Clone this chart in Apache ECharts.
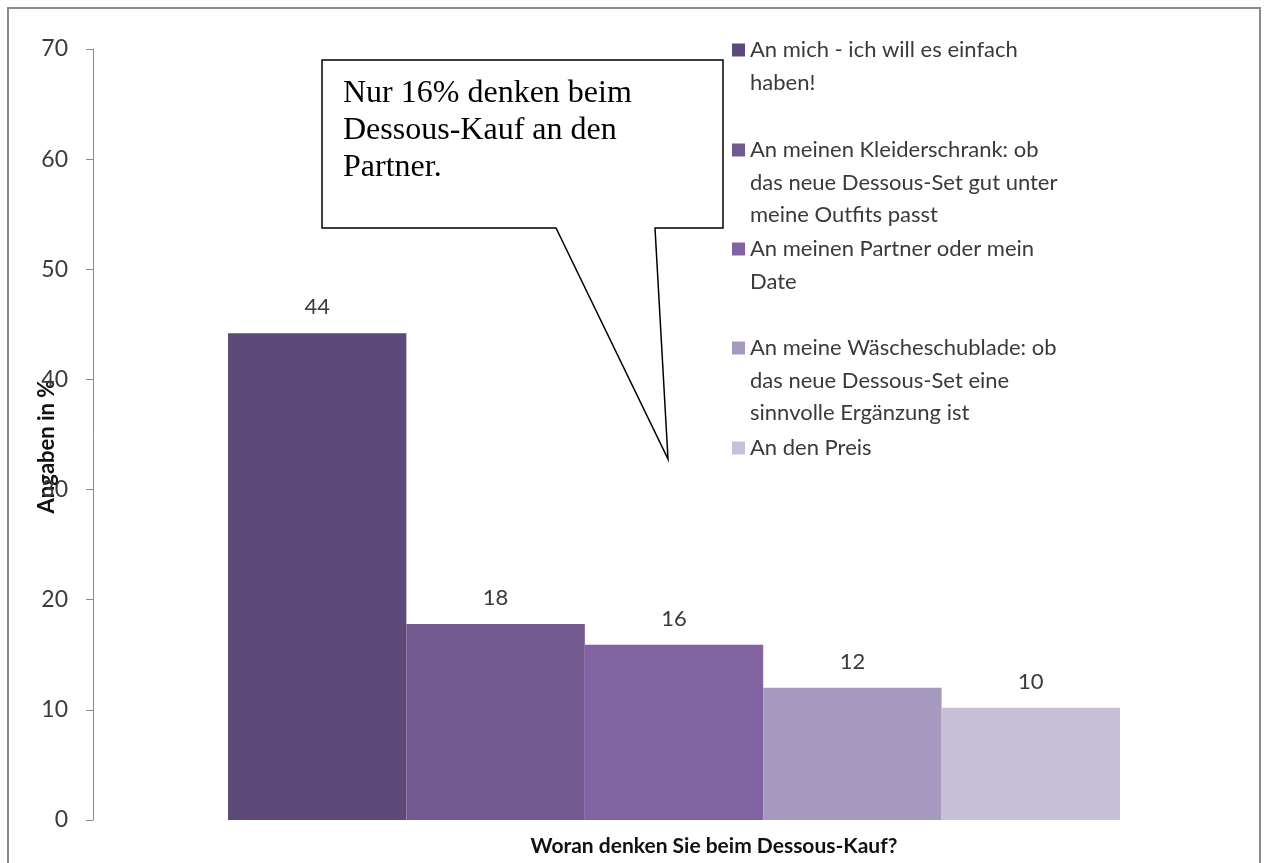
<!DOCTYPE html>
<html>
<head>
<meta charset="utf-8">
<script src="https://cdn.jsdelivr.net/npm/echarts@6/dist/echarts.min.js"></script>
<style>
  html, body { margin: 0; padding: 0; background: #ffffff; }
  #chart { width: 1264px; height: 863px; }
</style>
</head>
<body>
<div id="chart"></div>
<script>
// ---- data ----
const categories = [''];
const seriesNames = [
  'An mich - ich will es einfach\nhaben!',
  'An meinen Kleiderschrank: ob\ndas neue Dessous-Set gut unter\nmeine Outfits passt',
  'An meinen Partner oder mein\nDate',
  'An meine Wäscheschublade: ob\ndas neue Dessous-Set eine\nsinnvolle Ergänzung ist',
  'An den Preis'
];
const values = [44.2, 17.8, 15.9, 12.0, 10.2];
const colors = ['#5e4a78', '#72598f', '#8063a0', '#a699bf', '#c8c0d8'];
const yMin = 0, yMax = 70, yInterval = 10;
const xTitle = 'Woran denken Sie beim Dessous-Kauf?';
const yTitle = 'Angaben in %';
const calloutText = 'Nur 16% denken beim\nDessous-Kauf an den\nPartner.';

// ---- layout / styles ----
const FONT = 'Lato';
const legendLineH = 32.5;
const legendFirstLineCenters = [50, 150, 249, 348, 448];

const chart = echarts.init(document.getElementById('chart'), null, { renderer: 'canvas' });

const legends = seriesNames.map((name, i) => {
  const n = name.split('\n').length;
  return {
    data: [name],
    orient: 'vertical',
    left: 732,
    top: legendFirstLineCenters[i] - legendLineH * (2 * n - 1) / 2,
    padding: 0,
    itemWidth: 13,
    itemHeight: 13,
    icon: 'rect',
    selectedMode: false,
    // blank lines above keep the square level with the first text line
    formatter: nm => '\n'.repeat(nm.split('\n').length - 1) + nm,
    textStyle: {
      fontFamily: FONT,
      fontSize: 22,
      color: '#3a3a3a',
      lineHeight: legendLineH
    }
  };
});

const series = seriesNames.map((name, i) => ({
  name: name,
  type: 'bar',
  data: [values[i]],
  barWidth: 178.4,
  barGap: '0%',
  itemStyle: { color: colors[i] },
  label: {
    show: true,
    position: 'top',
    distance: 15,
    fontFamily: FONT,
    fontSize: 22,
    color: '#3a3a3a',
    formatter: p => String(Math.round(p.value))
  }
}));

const option = {
  backgroundColor: '#ffffff',
  animation: false,
  color: colors,
  legend: legends,
  grid: { left: 93, right: 9, top: 49, bottom: 43, containLabel: false, outerBoundsMode: 'none' },
  xAxis: {
    type: 'category',
    data: categories,
    axisLine: { show: false },
    axisTick: { show: false },
    axisLabel: { show: false },
    name: xTitle,
    nameLocation: 'middle',
    nameGap: 16,
    nameMoveOverlap: false,
    nameTextStyle: {
      fontFamily: FONT, fontSize: 21, fontWeight: 'bold', color: '#111',
      padding: [0, 0, 0, 80]
    }
  },
  yAxis: {
    type: 'value',
    min: yMin, max: yMax, interval: yInterval,
    splitLine: { show: false },
    axisLine: { show: true, lineStyle: { color: '#8a8a8a', width: 1 } },
    axisTick: { show: true, length: 7, lineStyle: { color: '#8a8a8a' } },
    axisLabel: { fontFamily: FONT, fontSize: 23, color: '#3a3a3a', margin: 25 },
    name: yTitle,
    nameLocation: 'middle',
    nameGap: 35,
    nameRotate: 90,
    nameMoveOverlap: false,
    nameTextStyle: {
      fontFamily: FONT, fontSize: 22, fontWeight: 'bold', color: '#111',
      padding: [0, 24, 0, 0]
    }
  },
  series: series,
  graphic: [
    {
      type: 'rect',
      silent: true,
      shape: { x: 8, y: 8, width: 1252, height: 900 },
      style: { fill: 'none', stroke: '#8a8a8a', lineWidth: 2 }
    },
    {
      type: 'polygon',
      silent: true,
      shape: { points: [[322, 60], [723, 60], [723, 228], [655, 228], [668, 459], [556, 228], [322, 228]] },
      style: { fill: '#ffffff', stroke: '#000000', lineWidth: 1.5 }
    },
    {
      type: 'text',
      silent: true,
      left: 343,
      top: 75,
      style: {
        text: calloutText,
        fontFamily: 'Liberation Serif',
        fontSize: 32,
        lineHeight: 37,
        fill: '#000000'
      }
    }
  ]
};

chart.setOption(option);
</script>
</body>
</html>
